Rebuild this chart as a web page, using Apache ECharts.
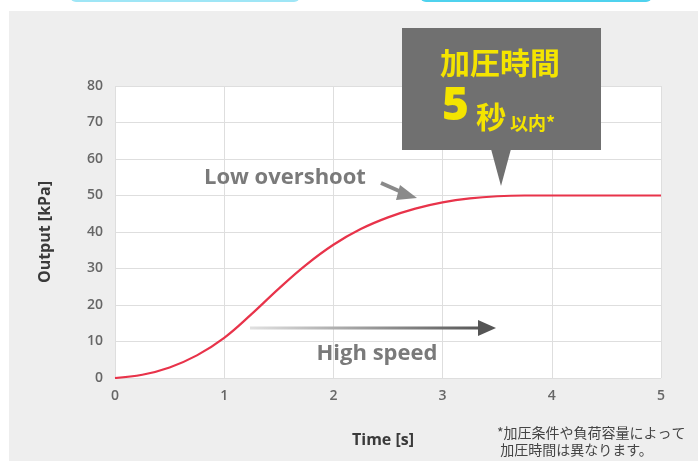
<!DOCTYPE html>
<html>
<head>
<meta charset="utf-8">
<script src="https://cdn.jsdelivr.net/npm/echarts@6/dist/echarts.min.js"></script>
<style>
html,body{margin:0;padding:0;background:#fff;}
#c{width:698px;height:461px;}
</style>
</head>
<body>
<div id="c"></div>
<script>
const timeValues = [0, 0.25, 0.5, 0.75, 1, 1.25, 1.5, 1.75, 2, 2.25, 2.5, 2.75, 3, 3.25, 3.5, 3.75, 4, 4.25, 4.5, 4.75, 5];
const outputValues = [0, 0.9, 2.9, 6.2, 11, 17.5, 24.5, 31, 36.5, 40.8, 44, 46.4, 48.1, 49.2, 49.8, 50, 50, 50, 50, 50, 50];
const xTicks = [0, 1, 2, 3, 4, 5];
const yTicks = [0, 10, 20, 30, 40, 50, 60, 70, 80];
const xAxisTitle = 'Time [s]';
const yAxisTitle = 'Output [kPa]';
const calloutLine1 = '加圧時間';
const calloutNum = '5';
const calloutUnit = '秒';
const calloutSuffix = '以内*';
const noteLine1 = '*加圧条件や負荷容量によって';
const noteLine2 = ' 加圧時間は異なります。';
const labelOvershoot = 'Low overshoot';
const labelSpeed = 'High speed';

const FONT = '"Open Sans", "Noto Sans CJK JP", sans-serif';
const CJK = '"Noto Sans CJK JP", sans-serif';
const chart = echarts.init(document.getElementById('c'));
const data = timeValues.map((t, i) => [t, outputValues[i]]);

chart.setOption({
  backgroundColor: 'transparent',
  animation: false,
  grid: {left: 115, right: 37, top: 86, bottom: 83, show: true, backgroundColor: '#ffffff', borderWidth: 0},
  xAxis: {
    type: 'value', min: 0, max: 5, interval: 1,
    axisLine: {show: false}, axisTick: {show: false},
    splitLine: {show: true, lineStyle: {color: '#dedede', width: 1}},
    axisLabel: {color: '#666', fontSize: 14, fontWeight: 600, fontFamily: FONT, margin: 11,
      formatter: v => xTicks.includes(v) ? String(v) : ''},
    name: xAxisTitle, nameLocation: 'middle', nameGap: 54,
    nameTextStyle: {color: '#3a3a3a', fontSize: 16, fontWeight: 'bold', fontFamily: FONT, padding: [0, 10, 0, 0]}
  },
  yAxis: {
    type: 'value', min: 0, max: 80, interval: 10,
    axisLine: {show: false}, axisTick: {show: false},
    splitLine: {show: true, lineStyle: {color: '#dedede', width: 1}},
    axisLabel: {color: '#666', fontSize: 14, fontWeight: 600, fontFamily: FONT, margin: 12,
      formatter: v => yTicks.includes(v) ? String(v) : ''},
    name: yAxisTitle, nameLocation: 'middle', nameGap: 62, nameRotate: 90,
    nameTextStyle: {color: '#3a3a3a', fontSize: 16, fontWeight: 'bold', fontFamily: FONT}
  },
  series: [{
    type: 'line', data: data, smooth: 0.4, showSymbol: false,
    lineStyle: {color: '#e8334a', width: 2.2}, z: 5
  }],
  graphic: [
    // page decorations
    {type: 'rect', shape: {x: 70, y: -10, width: 230, height: 12, r: 6}, style: {fill: '#9fe6f6'}, z: -20, silent: true},
    {type: 'rect', shape: {x: 420, y: -10, width: 232, height: 12, r: 6}, style: {fill: '#4fd2ee'}, z: -20, silent: true},
    {type: 'rect', shape: {x: 9, y: 11, width: 700, height: 460}, style: {fill: '#eeeeee'}, z: -30, silent: true},
    // callout
    {type: 'rect', shape: {x: 402, y: 28, width: 199, height: 122}, style: {fill: '#707070'}, z: 50},
    {type: 'polygon', shape: {points: [[491, 149], [511, 149], [501, 186]]}, style: {fill: '#707070'}, z: 50},
    {type: 'text', x: 500, y: 63, style: {text: calloutLine1, fill: '#f4e400', font: 'bold 30px ' + CJK, align: 'center', verticalAlign: 'middle'}, z: 51},
    {type: 'text', x: 442, y: 107, style: {text: calloutNum, fill: '#f4e400', font: '800 46px ' + FONT, align: 'left', verticalAlign: 'middle'}, z: 51},
    {type: 'text', x: 476, y: 117, style: {text: calloutUnit, fill: '#f4e400', font: 'bold 30px ' + CJK, align: 'left', verticalAlign: 'middle'}, z: 51},
    {type: 'text', x: 510, y: 123, style: {text: calloutSuffix, fill: '#f4e400', font: 'bold 18px ' + CJK, align: 'left', verticalAlign: 'middle'}, z: 51},
    // low overshoot
    {type: 'text', x: 204, y: 178, style: {text: labelOvershoot, fill: '#7a7a7a', font: 'bold 22px ' + FONT, align: 'left', verticalAlign: 'middle'}, z: 40},
    {type: 'line', shape: {x1: 381, y1: 183, x2: 406, y2: 194}, style: {stroke: '#8a8a8a', lineWidth: 4}, z: 40},
    {type: 'polygon', shape: {points: [[400, 185], [417, 198], [396, 200]]}, style: {fill: '#8a8a8a'}, z: 40},
    // high speed
    {type: 'line', shape: {x1: 250, y1: 328, x2: 482, y2: 328},
      style: {lineWidth: 3, stroke: new echarts.graphic.LinearGradient(0, 0, 1, 0, [{offset: 0, color: '#e2e2e2'}, {offset: 1, color: '#555555'}])}, z: 40},
    {type: 'polygon', shape: {points: [[478, 320], [496, 328], [478, 336]]}, style: {fill: '#555555'}, z: 40},
    {type: 'text', x: 377, y: 354, style: {text: labelSpeed, fill: '#7a7a7a', font: 'bold 22px ' + FONT, align: 'center', verticalAlign: 'middle'}, z: 40},
    // footnote
    {type: 'text', x: 497, y: 433, style: {text: noteLine1, fill: '#444', font: '14px ' + CJK, align: 'left', verticalAlign: 'middle'}, z: 40},
    {type: 'text', x: 497, y: 450, style: {text: noteLine2, fill: '#444', font: '14px ' + CJK, align: 'left', verticalAlign: 'middle'}, z: 40}
  ]
});
</script>
</body>
</html>
